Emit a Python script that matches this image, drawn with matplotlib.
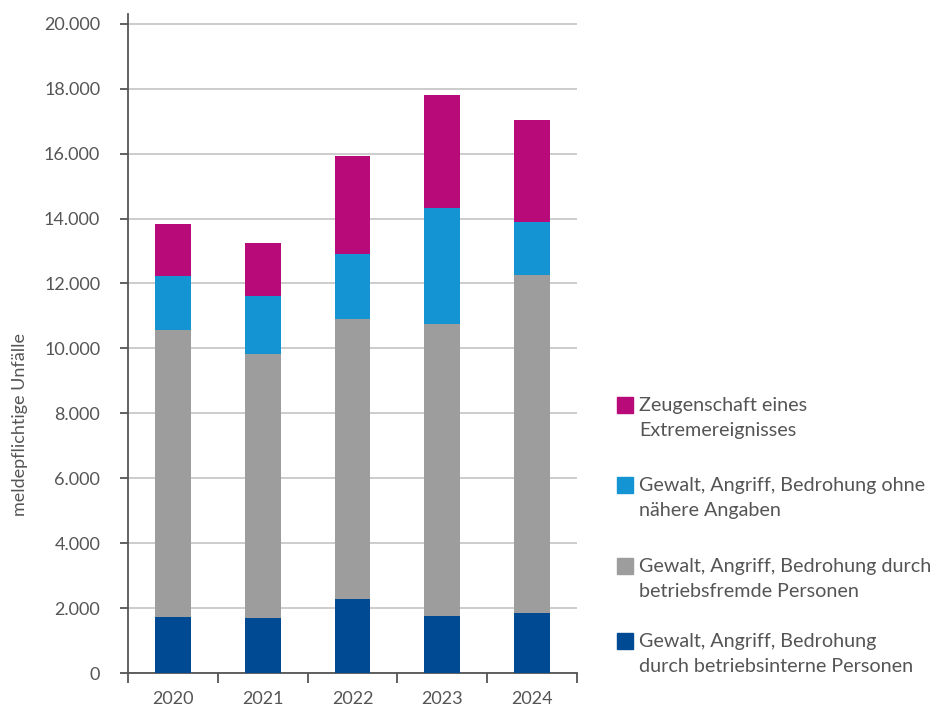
import matplotlib
matplotlib.use("Agg")
import matplotlib.pyplot as plt
import numpy as np
from matplotlib.patches import Rectangle
from matplotlib.ticker import FuncFormatter, FixedLocator

plt.rcParams['font.family'] = ['Lato', 'DejaVu Sans']

years = ['2020', '2021', '2022', '2023', '2024']
intern = [1720, 1690, 2270, 1750, 1840]
fremd = [8840, 8130, 8630, 9000, 10410]
ohne_angaben = [1660, 1790, 2000, 3570, 1640]
extrem = [1610, 1630, 3020, 3480, 3140]

series = [
    (intern, '#004A93', 'Gewalt, Angriff, Bedrohung\ndurch betriebsinterne Personen'),
    (fremd, '#9D9D9D', 'Gewalt, Angriff, Bedrohung durch\nbetriebsfremde Personen'),
    (ohne_angaben, '#1494D2', 'Gewalt, Angriff, Bedrohung ohne\nnähere Angaben'),
    (extrem, '#B80A78', 'Zeugenschaft eines\nExtremereignisses'),
]

txt = '#555555'
fig = plt.figure(figsize=(9.38, 7.13), dpi=100)
ax = fig.add_axes([128 / 938, 1 - 673 / 713, (577 - 128) / 938, 659 / 713])

x = np.arange(len(years))
bottom = np.zeros(len(years))
for vals, color, label in series:
    ax.bar(x, vals, width=0.4, bottom=bottom, color=color, zorder=3)
    bottom += np.array(vals)

ax.set_xlim(-0.5, len(years) - 0.5)
ax.set_ylim(0, 20300)
ax.set_yticks(np.arange(0, 20001, 2000))
ax.yaxis.set_major_formatter(FuncFormatter(lambda v, p: f'{int(v):,}'.replace(',', '.')))
ax.grid(axis='y', color='#c8c8c8', linewidth=1.3, zorder=0)

ax.set_xticks(x)
ax.set_xticklabels(years)
ax.xaxis.set_minor_locator(FixedLocator(np.arange(-0.5, len(years), 1.0)))
ax.tick_params(axis='x', which='major', length=0, pad=13, labelsize=13, labelcolor=txt)
ax.tick_params(axis='x', which='minor', length=7, width=1.3, color='#555555')
ax.tick_params(axis='y', length=6, width=1.3, color='#555555', pad=14, labelsize=13, labelcolor=txt)

for s in ['top', 'right']:
    ax.spines[s].set_visible(False)
for s in ['left', 'bottom']:
    ax.spines[s].set_color('#555555')
    ax.spines[s].set_linewidth(1.3)

fig.text(20 / 938, 1 - 425 / 713, 'meldepflichtige Unfälle', rotation=90,
         ha='center', va='center', fontsize=13, color=txt)

# legend, top entry is the top stack
legend_y = [405, 485, 566, 641]
for (vals, color, label), ly in zip(reversed(series), legend_y):
    fig.patches.append(Rectangle((617 / 938, 1 - (ly + 8) / 713), 16 / 938, 16 / 713,
                                 transform=fig.transFigure, color=color))
    fig.text(639 / 938, 1 - (ly - 8) / 713, label, ha='left', va='top',
             fontsize=14.2, color=txt, linespacing=1.55)

fig.savefig('out.png', dpi=100)
